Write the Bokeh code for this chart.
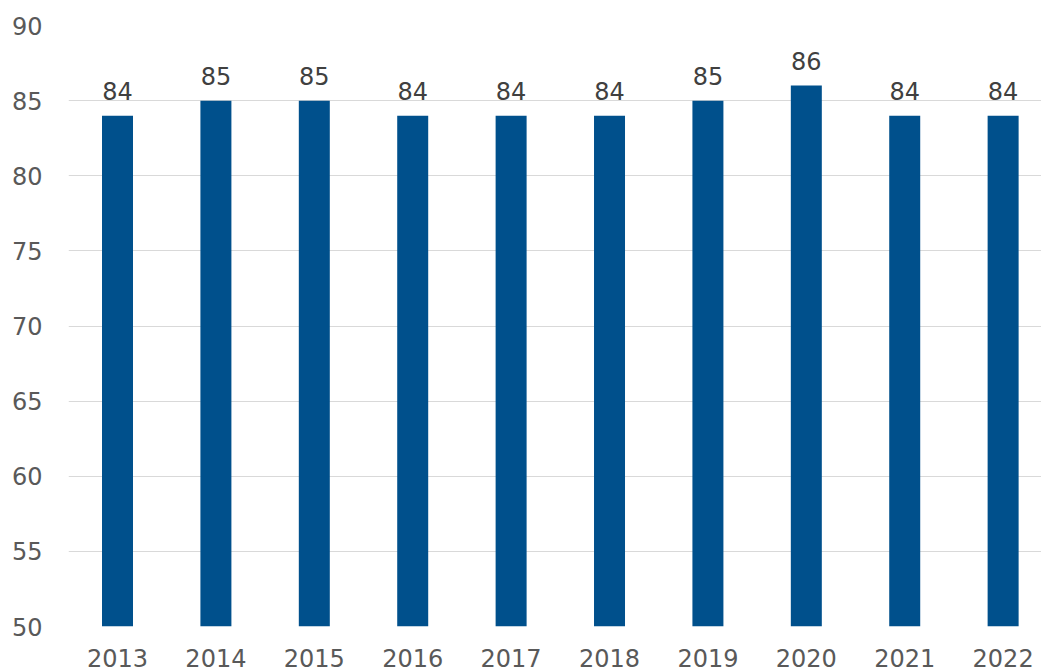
from bokeh.plotting import figure
from bokeh.models import ColumnDataSource, FixedTicker, Range1d
from bokeh.core.properties import value
from bokeh.embed import file_html
from bokeh.resources import INLINE

years = [2013, 2014, 2015, 2016, 2017, 2018, 2019, 2020, 2021, 2022]
scores = [84, 85, 85, 84, 84, 84, 85, 86, 84, 84]
y_ticks = [50, 55, 60, 65, 70, 75, 80, 85, 90]

BAR_COLOR = "#00508C"
TEXT_COLOR = "#595959"
GRID_COLOR = "#D9D9D9"
FONT = "DejaVu Sans"
FONT_SIZE = "24px"

src = ColumnDataSource(dict(year=years, score=scores, label=[str(s) for s in scores]))

p = figure(width=1041, height=671, output_backend="svg", toolbar_location=None,
           x_range=Range1d(2012.502, 2022.39), y_range=Range1d(50, 90),
           min_border_left=68, min_border_right=0, min_border_top=25, min_border_bottom=45)
p.outline_line_color = None
p.background_fill_color = "white"
p.border_fill_color = "white"

p.vbar(x="year", top="score", bottom=50, width=0.315, source=src,
       fill_color=BAR_COLOR, line_color=None)

# value labels sit a little above each bar
p.text(x="year", y="score", text="label", source=src,
       text_align="center", text_baseline="alphabetic", y_offset=-25,
       text_font=value(FONT), text_font_size=FONT_SIZE, text_color="#404040")

p.xaxis.ticker = FixedTicker(ticks=years)
p.yaxis.ticker = FixedTicker(ticks=y_ticks)
for ax in (p.xaxis[0], p.yaxis[0]):
    ax.axis_line_color = None
    ax.major_tick_line_color = None
    ax.minor_tick_line_color = None
    ax.major_label_text_font = FONT
    ax.major_label_text_font_size = FONT_SIZE
    ax.major_label_text_color = TEXT_COLOR
p.xaxis.major_label_standoff = 16
p.yaxis.major_label_standoff = 20

p.xgrid.grid_line_color = None
p.ygrid.ticker = FixedTicker(ticks=y_ticks)
p.ygrid.grid_line_color = GRID_COLOR
p.ygrid.grid_line_width = 1

open("out.html", "w").write(file_html(p, INLINE))
